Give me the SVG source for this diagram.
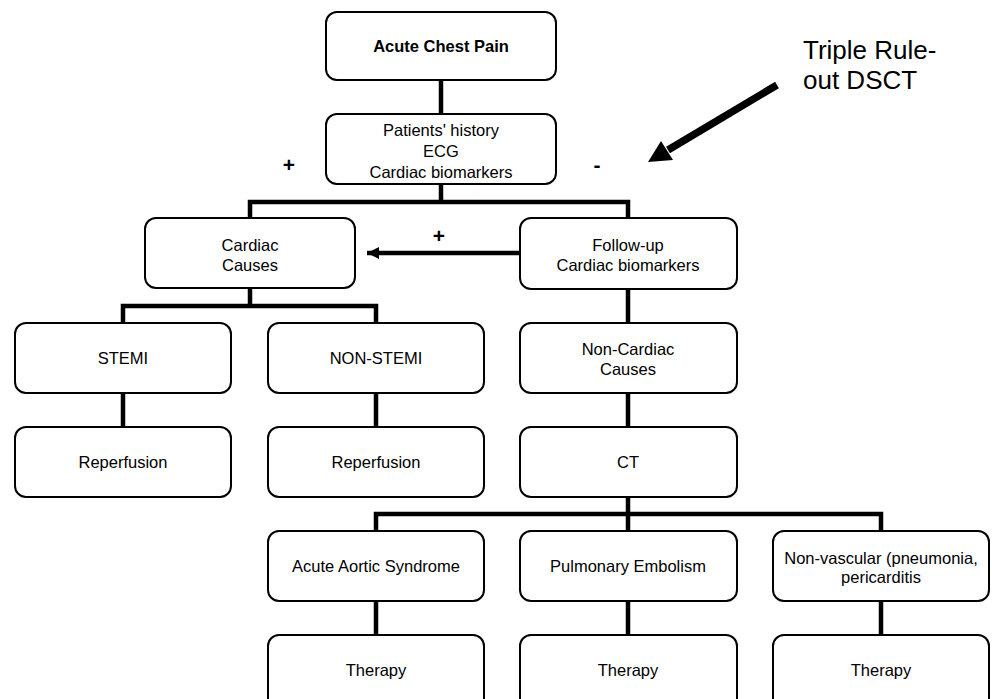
<svg xmlns="http://www.w3.org/2000/svg" width="992" height="699" viewBox="0 0 992 699">
<defs>
<style>
.box{fill:#fff;stroke:#000;stroke-width:2}
.t{font-family:"Liberation Sans",Arial,sans-serif;font-size:16.5px;text-anchor:middle;fill:#000}
.b{font-weight:bold;font-size:16.5px}
.c{fill:none;stroke:#000;stroke-width:4.5}
.sign{font-family:"Liberation Sans",Arial,sans-serif;font-size:21px;font-weight:bold;text-anchor:middle;fill:#000}
.big{font-family:"Liberation Sans",Arial,sans-serif;font-size:26px;fill:#000}
</style>
<marker id="ah" markerWidth="12" markerHeight="12" refX="12" refY="6" orient="auto" markerUnits="userSpaceOnUse">
<path d="M0,0 L12,6 L0,12 Z" fill="#000"/>
</marker>
</defs>
<rect width="992" height="699" fill="#fff"/>
<g id="connectors">
<path class="c" d="M441,80 V114"/>
<path class="c" d="M441,184 V202"/>
<path class="c" d="M250,218 V202 H628 V218"/>
<path class="c" d="M519,253 H367" marker-end="url(#ah)"/>
<path class="c" d="M250,288 V306"/>
<path class="c" d="M123,323 V306 H376 V323"/>
<path class="c" d="M123,393 V427"/>
<path class="c" d="M376,393 V427"/>
<path class="c" d="M628,289 V323"/>
<path class="c" d="M628,393 V427"/>
<path class="c" d="M628,497 V531"/>
<path class="c" d="M376,531 V514 H881 V531"/>
<path class="c" d="M376,601 V635"/>
<path class="c" d="M628,601 V635"/>
<path class="c" d="M881,601 V635"/>
<line x1="777" y1="85" x2="668" y2="150" stroke="#000" stroke-width="7.5"/>
<polygon points="648,162 661,141 673,160" fill="#000"/>
</g>
<g id="labels">
<text class="sign" x="289" y="172">+</text>
<text class="sign" x="597" y="172">-</text>
<text class="sign" x="439" y="243">+</text>
<text class="big" x="803" y="59">Triple Rule-</text>
<text class="big" x="803" y="89">out DSCT</text>
</g>
<g id="n-acp"><rect class="box" x="326" y="12" width="230" height="68" rx="11"/><text class="t b" x="441" y="52">Acute Chest Pain</text></g>
<g id="n-hist"><rect class="box" x="326" y="114" width="230" height="70" rx="11"/><text class="t" x="441" y="136">Patients' history</text><text class="t" x="441" y="157">ECG</text><text class="t" x="441" y="178">Cardiac biomarkers</text></g>
<g id="n-cardiac"><rect class="box" x="145" y="218" width="210" height="70" rx="11"/><text class="t" x="250" y="251">Cardiac</text><text class="t" x="250" y="271">Causes</text></g>
<g id="n-follow"><rect class="box" x="520" y="218" width="217" height="71" rx="11"/><text class="t" x="628" y="251">Follow-up</text><text class="t" x="628" y="271">Cardiac biomarkers</text></g>
<g id="n-stemi"><rect class="box" x="15" y="323" width="216" height="70" rx="11"/><text class="t" x="123" y="364">STEMI</text></g>
<g id="n-nonstemi"><rect class="box" x="268" y="323" width="216" height="70" rx="11"/><text class="t" x="376" y="364">NON-STEMI</text></g>
<g id="n-noncard"><rect class="box" x="520" y="323" width="217" height="70" rx="11"/><text class="t" x="628" y="355">Non-Cardiac</text><text class="t" x="628" y="375">Causes</text></g>
<g id="n-rep1"><rect class="box" x="15" y="427" width="216" height="70" rx="11"/><text class="t" x="123" y="468">Reperfusion</text></g>
<g id="n-rep2"><rect class="box" x="268" y="427" width="216" height="70" rx="11"/><text class="t" x="376" y="468">Reperfusion</text></g>
<g id="n-ct"><rect class="box" x="520" y="427" width="217" height="70" rx="11"/><text class="t" x="628" y="468">CT</text></g>
<g id="n-aas"><rect class="box" x="268" y="531" width="216" height="70" rx="11"/><text class="t" x="376" y="572">Acute Aortic Syndrome</text></g>
<g id="n-pe"><rect class="box" x="520" y="531" width="217" height="70" rx="11"/><text class="t" x="628" y="572">Pulmonary Embolism</text></g>
<g id="n-nv"><rect class="box" x="773" y="531" width="216" height="70" rx="11"/><text class="t" x="881" y="564">Non-vascular (pneumonia,</text><text class="t" x="881" y="583">pericarditis</text></g>
<g id="n-th1"><rect class="box" x="268" y="635" width="216" height="75" rx="11"/><text class="t" x="376" y="676">Therapy</text></g>
<g id="n-th2"><rect class="box" x="520" y="635" width="217" height="75" rx="11"/><text class="t" x="628" y="676">Therapy</text></g>
<g id="n-th3"><rect class="box" x="773" y="635" width="216" height="75" rx="11"/><text class="t" x="881" y="676">Therapy</text></g>
</svg>
